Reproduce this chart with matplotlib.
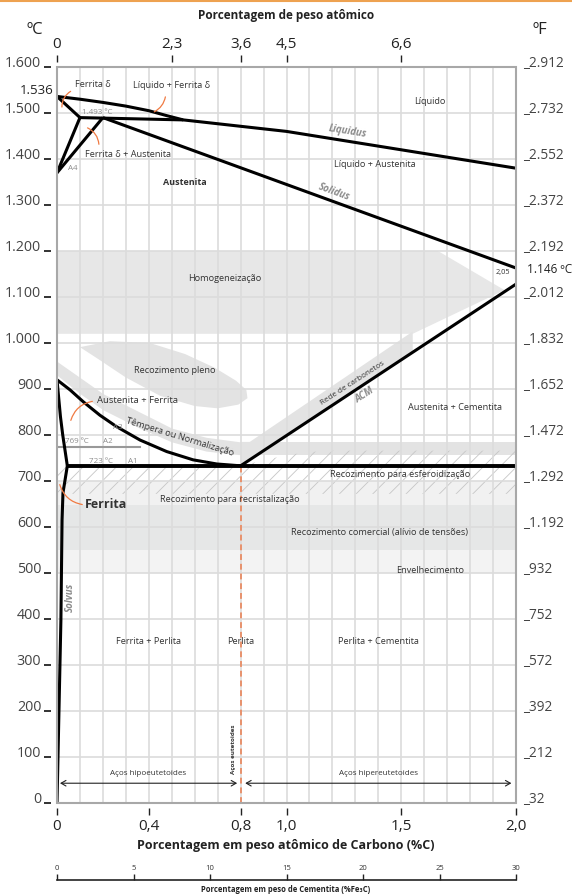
import numpy as np
import matplotlib
matplotlib.use('Agg')
import matplotlib.pyplot as plt
from matplotlib.patches import Polygon, Rectangle, FancyArrowPatch
from matplotlib.lines import Line2D

plt.rcParams['font.family'] = ['Open Sans', 'DejaVu Sans']
plt.rcParams['hatch.linewidth'] = 0.6

# ---------------- data (% C em peso, ºC) ----------------
# linhas de fase
liq_wt = [0, 0.1, 0.2, 0.3, 0.4, 0.48, 0.55, 1.0, 2.0]
liq_T = [1536, 1530, 1523, 1515, 1505, 1494, 1485, 1460, 1380]
delta_sol_wt = [0, 0.1]
delta_sol_T = [1536, 1490]
perit_wt = [0.1, 0.55]
perit_T = [1490, 1485]
dg1_wt = [0, 0.1]
dg1_T = [1370, 1490]
dg2_wt = [0, 0.2]
dg2_T = [1370, 1490]
solidus_wt = [0.2, 2.0]
solidus_T = [1490, 1163]
a3_wt = [0, 0.057, 0.115, 0.187, 0.26, 0.362, 0.478, 0.593, 0.696, 0.8]
a3_T = [920, 898, 872, 843, 818, 789, 764, 746, 737, 733]
acm_wt = [0.8, 2.0]
acm_T = [733, 1128]
a1_wt = [0.045, 2.0]
a1_T = [733, 733]
a2_wt = [0, 0.36]
a2_T = [774, 774]
alpha_wt = [0, 0.015, 0.025, 0.045]
alpha_T = [920, 840, 800, 733]
solvus_wt = [0.045, 0.026, 0.022, 0.017, 0.0]
solvus_T = [733, 674, 615, 398, 0]
eutect_wt = 0.8

# zonas de tratamento
homog_wt = [0, 1.66, 1.95, 1.55, 0]
homog_T = [1200, 1200, 1115, 1020, 1020]
pleno_wt = [0.100, 0.231, 0.405, 0.558, 0.688, 0.780, 0.825, 0.830, 0.79, 0.70,
            0.60, 0.45, 0.30, 0.18]
pleno_T = [991, 1004, 1000, 976, 946, 918, 898, 880, 866, 858, 863, 885, 925, 965]
norm_wt = [0, 0.1, 0.2, 0.36, 0.5, 0.65, 0.8]
norm_lo = [930, 890, 855, 815, 785, 765, 757]
norm_hi = [960, 925, 890, 850, 815, 795, 785]
norm_right = [757, 785]
rede_wt = [0.8, 1.55, 1.55, 0.84, 0.8]
rede_T = [733, 980, 1025, 785, 785]
esfer_wt = [0, 2.0, 2.0, 1.2, 1.1, 1.0, 0.9, 0.8, 0]
esfer_T = [672, 672, 766, 766, 763, 756, 745, 733, 733]
recrist_T = [648, 700]
comercial_T = [550, 648]
envelh_T = [500, 550]

# eixos
c_ticks = list(range(0, 1700, 100))
c_labels = ['0', '100', '200', '300', '400', '500', '600', '700', '800', '900',
            '1.000', '1.100', '1.200', '1.300', '1.400', '1.500', '1.600']
f_labels = ['_32', '_212', '_392', '_572', '_752', '_932', '_1.192', '_1.292',
            '_1.472', '_1.652', '_1.832', '_2.012', '_2.192', '_2.372', '_2.552',
            '_2.732', '_2.912']
bot_pos = [0, 0.4, 0.8, 1.0, 1.5, 2.0]
bot_labels = ['0', '0,4', '0,8', '1,0', '1,5', '2,0']
top_pos = [0, 0.5, 0.8, 1.0, 1.5]
top_labels = ['0', '2,3', '3,6', '4,5', '6,6']
cem_ticks = [0, 5, 10, 15, 20, 25, 30]
cem_labels = ['0', '5', '10', '15', '20', '25', '30']

# ---------------- figura ----------------
DARK = '#333333'
GRAY = '#8c8c8c'
ORANGE = '#f07a42'

fig = plt.figure(figsize=(5.72, 8.94), dpi=100)
ax = fig.add_axes([57 / 572, 1 - 803 / 894, 459 / 572, 736 / 894])
ax.set_xlim(0, 2)
ax.set_ylim(0, 1600)

# faixas
ax.fill_between([0, 2], envelh_T[0], envelh_T[1], color='#f3f3f3', lw=0, zorder=0.6)
ax.fill_between([0, 2], comercial_T[0], comercial_T[1], color='#e6e7e7', lw=0, zorder=0.6)
ax.fill_between([0, 2], recrist_T[0], recrist_T[1], color='#f1f1f1', lw=0, zorder=0.6)
ax.add_patch(Polygon(list(zip(esfer_wt, esfer_T)), facecolor='none', edgecolor='#c6c6c6',
                     lw=0, hatch='//', zorder=0.7))
ax.add_patch(Polygon(list(zip(homog_wt, homog_T)), facecolor='#e7e7e7', lw=0, zorder=0.6))
ax.add_patch(Polygon(list(zip(pleno_wt, pleno_T)), closed=True, facecolor='#e3e3e3', lw=0, zorder=0.6))
ax.fill_between(norm_wt, norm_lo, norm_hi, color='#e3e3e3', lw=0, zorder=0.6)
ax.fill_between([0.8, 2.0], norm_right[0], norm_right[1], color='#e3e3e3', lw=0, zorder=0.6)
ax.add_patch(Polygon(list(zip(rede_wt, rede_T)), facecolor='#e3e3e3', lw=0, zorder=0.6))

# grade
ax.xaxis.remove_overlapping_locs = False
ax.set_xticks(np.arange(0, 2.01, 0.1), minor=True)
ax.set_axisbelow('line')
ax.grid(which='minor', axis='x', color='#dcdcdc', lw=1.2)
ax.grid(which='major', axis='y', color='#dcdcdc', lw=1.2)
ax.grid(which='major', axis='x', visible=False)

# linhas de fase
kw = dict(color='black', lw=2.2, zorder=3, solid_capstyle='butt', solid_joinstyle='miter')
ax.plot(liq_wt, liq_T, **kw)
ax.plot(delta_sol_wt, delta_sol_T, **kw)
ax.plot(perit_wt, perit_T, **kw)
ax.plot(dg1_wt, dg1_T, **kw)
ax.plot(dg2_wt, dg2_T, **kw)
ax.plot(solidus_wt, solidus_T, **kw)
ax.plot(a3_wt, a3_T, **kw)
ax.plot(acm_wt, acm_T, **kw)
ax.plot(alpha_wt, alpha_T, **kw)
ax.plot(solvus_wt, solvus_T, **kw)
ax.plot(a1_wt, a1_T, color='black', lw=2.8, zorder=3, solid_capstyle='butt')
ax.plot(a2_wt, a2_T, color='#999999', lw=1.5, zorder=2.8)
ax.plot([eutect_wt, eutect_wt], [0, a1_T[0]], color='#e8916c', lw=1.4,
        ls=(0, (3, 2)), zorder=2.9)

# textos das fases
tk = dict(fontsize=6.6, color=DARK, zorder=4)
ax.text(0.078, 1561, 'Ferrita δ', ha='left', va='center', **tk)
ax.text(0.33, 1559, 'Líquido + Ferrita δ', ha='left', va='center', **tk)
ax.text(0.122, 1409, 'Ferrita δ + Austenita', ha='left', va='center', **tk)
ax.text(1.625, 1524, 'Líquido', ha='center', va='center', **tk)
ax.text(1.386, 1389, 'Líquido + Austenita', ha='center', va='center', **tk)
ax.text(0.558, 1348, 'Austenita', ha='center', va='center', fontweight='bold',
        fontsize=6.5, color=DARK, zorder=4)
ax.text(0.732, 1141, 'Homogeneização', ha='center', va='center', **tk)
ax.text(0.514, 941, 'Recozimento pleno', ha='center', va='center', **tk)
ax.text(0.174, 876, 'Austenita + Ferrita', ha='left', va='center', fontsize=6.8,
        color=DARK, zorder=4)
ax.text(1.734, 859, 'Austenita + Cementita', ha='center', va='center', **tk)
ax.text(0.536, 796, 'Têmpera ou Normalização', ha='center', va='center', rotation=-17, **tk)
ax.text(1.29, 913, 'Rede de carbonetos', ha='center', va='center', rotation=33,
        fontsize=5.8, color=DARK, zorder=4)
ax.text(1.495, 715, 'Recozimento para esferoidização', ha='center', va='center', **tk)
ax.text(0.754, 659, 'Recozimento para recristalização', ha='center', va='center', **tk)
ax.text(1.407, 587, 'Recozimento comercial (alívio de tensões)', ha='center', va='center', **tk)
ax.text(1.625, 506, 'Envelhecimento', ha='center', va='center', **tk)
ax.text(0.122, 648, 'Ferrita', ha='left', va='center', fontweight='bold', fontsize=9,
        color=DARK, zorder=4)
ax.text(0.397, 352, 'Ferrita + Perlita', ha='center', va='center', **tk)
ax.text(0.8, 352, 'Perlita', ha='center', va='center', **tk)
ax.text(1.4, 352, 'Perlita + Cementita', ha='center', va='center', **tk)
ax.text(1.943, 1154, '2,05', ha='center', va='center', fontsize=5.3, color=DARK, zorder=4)

# nomes das linhas
gk = dict(color=GRAY, fontweight='bold', style='italic', fontsize=7, zorder=4,
          ha='center', va='center')
ax.text(1.268, 1459, 'Liquidus', rotation=-9, **gk)
ax.text(1.207, 1328, 'Solidus', rotation=-20, **gk)
ax.text(1.342, 887, 'ACM', rotation=33, **gk)
ax.text(0.057, 448, 'Solvus', rotation=90, **gk)

sk = dict(color=GRAY, fontsize=5.8, zorder=4, ha='center', va='center')
ax.text(0.174, 1502, '1.493 ºC', **sk)
ax.text(0.07, 1380, 'A4', **sk)
ax.text(0.266, 817, 'A3', **sk)
ax.text(0.087, 785, '769 ºC', **sk)
ax.text(0.222, 785, 'A2', **sk)
ax.text(0.192, 743, '723 ºC', **sk)
ax.text(0.331, 743, 'A1', **sk)

# linhas de chamada
leaders = [((0.070, 1550), (0.022, 1507), 0.35),
           ((0.474, 1541), (0.413, 1500), -0.3),
           ((0.183, 1426), (0.122, 1470), 0.35),
           ((0.166, 874), (0.057, 826), 0.35),
           ((0.009, 698), (0.122, 648), 0.35)]
for a, b, r in leaders:
    ax.add_patch(FancyArrowPatch(a, b, arrowstyle='-', color=ORANGE, lw=0.9,
                                 connectionstyle='arc3,rad=%s' % r, zorder=4))

# setas de aços
for x0, x1 in [(0.013, 0.785), (0.82, 1.98)]:
    ax.annotate('', xy=(x0, 43), xytext=(x1, 43),
                arrowprops=dict(arrowstyle='<->,head_length=0.35,head_width=0.2',
                                color='#222222', lw=0.8, shrinkA=0, shrinkB=0), zorder=4)
ax.text(0.397, 65, 'Aços hipoeutetoides', ha='center', va='center', fontsize=5.8, color=DARK)
ax.text(1.40, 65, 'Aços hipereutetoides', ha='center', va='center', fontsize=5.8, color=DARK)
ax.text(0.768, 117, 'Aços eutetoides', ha='center', va='center', rotation=90,
        fontsize=4.5, fontweight='bold', color=DARK)

# valores fora do gráfico
ax.text(-0.017, 1550, '1.536', ha='right', va='center', fontsize=9.5, color='#222222',
        clip_on=False)
ax.text(2.048, 1160, '1.146 ºC', ha='left', va='center', fontsize=8.5, color='#222222',
        clip_on=False)

# eixos principais
for s in ax.spines.values():
    s.set_visible(False)
ax.spines['left'].set_position(('outward', 4.3))
ax.spines['bottom'].set_position(('outward', 3.6))
ax.set_yticks(c_ticks, c_labels)
ax.set_xticks(bot_pos, bot_labels)
ax.tick_params(axis='y', length=5, width=1.3, color='#222222', pad=2,
               labelsize=10.3, labelcolor='#444444')
ax.tick_params(axis='x', which='major', length=5, width=1, color='#222222', pad=3,
               labelsize=11, labelcolor='#222222')
ax.tick_params(which='minor', length=0)
for lab in ax.get_yticklabels():
    lab.set_va('baseline')
ax.add_patch(Rectangle((0, 0), 1, 1, transform=ax.transAxes, fill=False,
                       ec='#a8a8a8', lw=1.5, zorder=5, clip_on=False))

# eixo superior (% atômico)
ax_top = ax.twiny()
ax_top.set_xlim(0, 2)
for s in ax_top.spines.values():
    s.set_visible(False)
ax_top.spines['top'].set_position(('outward', 3.6))
ax_top.set_xticks(top_pos, top_labels)
ax_top.tick_params(axis='x', length=5, width=1, color='#222222', pad=2,
                   labelsize=11, labelcolor='#222222')

# eixo direito (ºF)
ax_r = ax.twinx()
ax_r.set_ylim(0, 1600)
for s in ax_r.spines.values():
    s.set_visible(False)
ax_r.set_yticks(c_ticks, f_labels)
ax_r.tick_params(axis='y', length=0, pad=5, labelsize=9.8, labelcolor='#444444')
for lab in ax_r.get_yticklabels():
    lab.set_va('baseline')

# eixo de cementita
cax = fig.add_axes([57 / 572, 1 - 880 / 894, 459 / 572, 0.0001])
cax.patch.set_visible(False)
cax.set_xlim(0, 30)
cax.set_yticks([])
for k in ['top', 'left', 'right']:
    cax.spines[k].set_visible(False)
cax.spines['bottom'].set_color('#222222')
cax.spines['bottom'].set_linewidth(1.2)
cax.set_xticks(cem_ticks, cem_labels)
cax.tick_params(axis='x', direction='in', length=4.5, width=1, color='#222222',
                bottom=True, top=False, labelbottom=False, labeltop=True,
                labelsize=5.5, pad=6, labelcolor='#333333')

# títulos
fig.text(0.5, 1 - 16 / 894, 'Porcentagem de peso atômico', ha='center', va='center',
         fontsize=8.5, fontweight='bold', color='#222222')
fig.text(35 / 572, 1 - 30 / 894, 'ºC', ha='center', va='center', fontsize=12, color='#222222')
fig.text(540 / 572, 1 - 30 / 894, 'ºF', ha='center', va='center', fontsize=12, color='#222222')
fig.text(0.5, 1 - 846 / 894, 'Porcentagem em peso atômico de Carbono (%C)', ha='center',
         va='center', fontsize=9, fontweight='bold', color='#222222')
fig.text(0.5, 1 - 889 / 894, 'Porcentagem em peso de Cementita (%Fe₃C)', ha='center',
         va='center', fontsize=5.5, fontweight='bold', color='#222222')
fig.add_artist(Line2D([0, 1], [0.9985, 0.9985], color='#eea250', lw=1.5,
                      transform=fig.transFigure))

fig.savefig('out.png', dpi=100)
